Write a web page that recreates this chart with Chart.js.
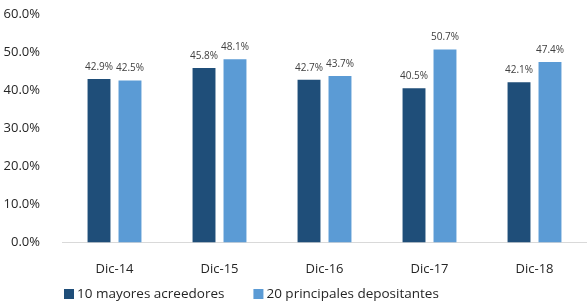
<!DOCTYPE html>
<html>
<head>
<meta charset="utf-8">
<script src="https://cdn.jsdelivr.net/npm/chart.js@4/dist/chart.umd.min.js"></script>
<style>
  html, body { margin: 0; padding: 0; background: #fff; }
  #wrap { width: 587px; height: 302px; }
</style>
</head>
<body>
<div id="wrap"><canvas id="chart" width="587" height="302"></canvas></div>
<script>
// Datos del gráfico
const periodos = ['Dic-14', 'Dic-15', 'Dic-16', 'Dic-17', 'Dic-18'];
const acreedores = [42.9, 45.8, 42.7, 40.5, 42.1];
const depositantes = [42.5, 48.1, 43.7, 50.7, 47.4];
const ticksY = [0, 10, 20, 30, 40, 50, 60];

const fuente = '"Open Sans", sans-serif';

// Etiquetas de valor encima de cada barra
const etiquetas = {
  id: 'etiquetas',
  afterDatasetsDraw(chart) {
    const ctx = chart.ctx;
    ctx.save();
    ctx.font = '10px ' + fuente;
    ctx.fillStyle = '#404040';
    ctx.textAlign = 'center';
    ctx.textBaseline = 'bottom';
    chart.data.datasets.forEach(function(ds, i) {
      chart.getDatasetMeta(i).data.forEach(function(bar, j) {
        ctx.fillText(ds.data[j].toFixed(1) + '%', bar.x, bar.y - 7);
      });
    });
    ctx.restore();
  }
};

// Leyenda abajo, al estilo de Excel (desplazada a la izquierda)
const leyenda = {
  id: 'leyenda',
  afterDraw(chart) {
    const ctx = chart.ctx;
    const y = 294;
    let x = 64;
    ctx.save();
    ctx.font = '13.5px ' + fuente;
    ctx.textBaseline = 'middle';
    ctx.textAlign = 'left';
    chart.data.datasets.forEach(function(ds) {
      ctx.fillStyle = ds.backgroundColor;
      ctx.fillRect(x, y - 5, 10, 10);
      ctx.fillStyle = '#262626';
      ctx.fillText(ds.label, x + 13, y);
      x += 13 + ctx.measureText(ds.label).width + 29;
    });
    ctx.restore();
  }
};

const ctx = document.getElementById('chart').getContext('2d');
const chart = new Chart(ctx, {
  type: 'bar',
  data: {
    labels: periodos,
    datasets: [{
      label: '10 mayores acreedores',
      data: acreedores,
      backgroundColor: '#1F4E79'
    }, {
      label: '20 principales depositantes',
      data: depositantes,
      backgroundColor: '#5B9BD5'
    }]
  },
  options: {
    responsive: false,
    animation: false,
    datasets: {
      bar: { categoryPercentage: 0.59, barPercentage: 0.74 }
    },
    layout: { padding: { top: 0, right: 0, left: 0, bottom: 14 } },
    scales: {
      x: {
        grid: { display: false },
        border: { display: true, color: '#D9D9D9' },
        ticks: { color: '#262626', font: { family: fuente, size: 13 }, padding: 11 }
      },
      y: {
        min: 0,
        max: 60,
        afterBuildTicks(scale) {
          scale.ticks = ticksY.map(v => ({ value: v }));
        },
        afterFit(scale) {
          scale.width = 62;
          scale.paddingTop = 14;
        },
        grid: { display: false },
        border: { display: false },
        ticks: {
          color: '#262626',
          font: { family: fuente, size: 13 },
          padding: 14,
          callback: v => v.toFixed(1) + '%'
        }
      }
    },
    plugins: {
      legend: { display: false },
      tooltip: { enabled: false }
    }
  },
  plugins: [etiquetas, leyenda]
});
</script>
</body>
</html>
